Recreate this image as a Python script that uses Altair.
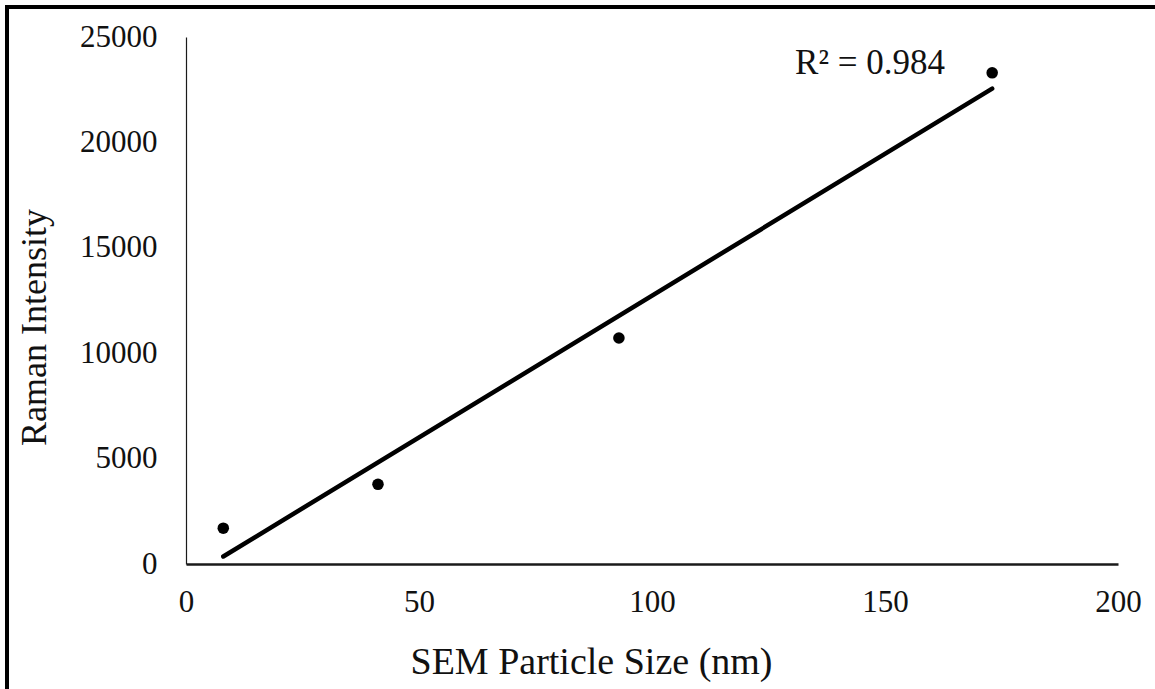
import altair as alt
import pandas as pd

# Measured particle sizes (nm) and the Raman intensity recorded for each
particle_size_nm = [8.0, 41.2, 92.9, 173.0]
raman_intensity = [1700, 3780, 10720, 23300]

# Where the fit statistic is written, in data units
r2_label_x = [130.7]
r2_label_y = [23250]

FONT = "Liberation Serif"

df = pd.DataFrame({"size": particle_size_nm, "intensity": raman_intensity})

x_scale = alt.Scale(domain=[0, 200], nice=False, zero=True)
y_scale = alt.Scale(domain=[0, 25000], nice=False, zero=True)

x_axis = alt.Axis(
    title="SEM Particle Size (nm)",
    values=[0, 50, 100, 150, 200],
    format="d",
    grid=False,
    ticks=False,
    domainColor="#1a1a1a",
    domainWidth=2.5,
    labelFont=FONT,
    labelFontSize=31,
    labelColor="#111111",
    labelPadding=23,
    labelFlush=False,
    titleFont=FONT,
    titleFontSize=38,
    titleFontWeight="normal",
    titleColor="#111111",
    titleX=405,
    titleY=109,
    titleAlign="center",
    titleBaseline="alphabetic",
)

y_axis = alt.Axis(
    title="Raman Intensity",
    values=[0, 5000, 10000, 15000, 20000, 25000],
    format="d",
    grid=False,
    ticks=False,
    domainColor="#1a1a1a",
    domainWidth=1.2,
    labelFont=FONT,
    labelFontSize=31,
    labelColor="#111111",
    labelPadding=29,
    labelFlush=False,
    titleFont=FONT,
    titleFontSize=36,
    titleFontWeight="normal",
    titleColor="#111111",
    titleAngle=270,
    titleX=-141,
    titleY=290,
    titleAlign="center",
    titleBaseline="alphabetic",
)

base = alt.Chart(df)

points = base.mark_circle(size=133, color="black", opacity=1).encode(
    x=alt.X("size:Q", scale=x_scale, axis=x_axis),
    y=alt.Y("intensity:Q", scale=y_scale, axis=y_axis),
)

trend = (
    base.transform_regression("size", "intensity", method="linear")
    .mark_line(color="black", strokeWidth=4.5, strokeCap="round")
    .encode(x="size:Q", y="intensity:Q")
)

r2_text = (
    base.transform_regression("size", "intensity", method="linear", params=True)
    .transform_calculate(label="'R² = ' + format(datum.rSquared, '.3f')")
    .transform_calculate(lx=str(r2_label_x[0]), ly=str(r2_label_y[0]))
    .mark_text(font=FONT, fontSize=35, color="#111111", align="left", baseline="alphabetic")
    .encode(x="lx:Q", y="ly:Q", text="label:N")
)

# Outer border around the whole figure
frame = alt.Chart(df).mark_rect(
    fill=None, stroke="black", strokeWidth=4
).encode(
    x=alt.value(-179), x2=alt.value(975), y=alt.value(-30), y2=alt.value(660)
)

chart = (
    alt.layer(frame, trend, points, r2_text)
    .properties(
        width=932,
        height=527,
        autosize=alt.AutoSizeParams(type="none"),
        padding={"left": 186, "top": 37, "right": 37, "bottom": 125},
        background="white",
    )
    .configure_view(stroke=None)
)

chart.save("out.html", embed_options={"renderer": "svg", "actions": False})
